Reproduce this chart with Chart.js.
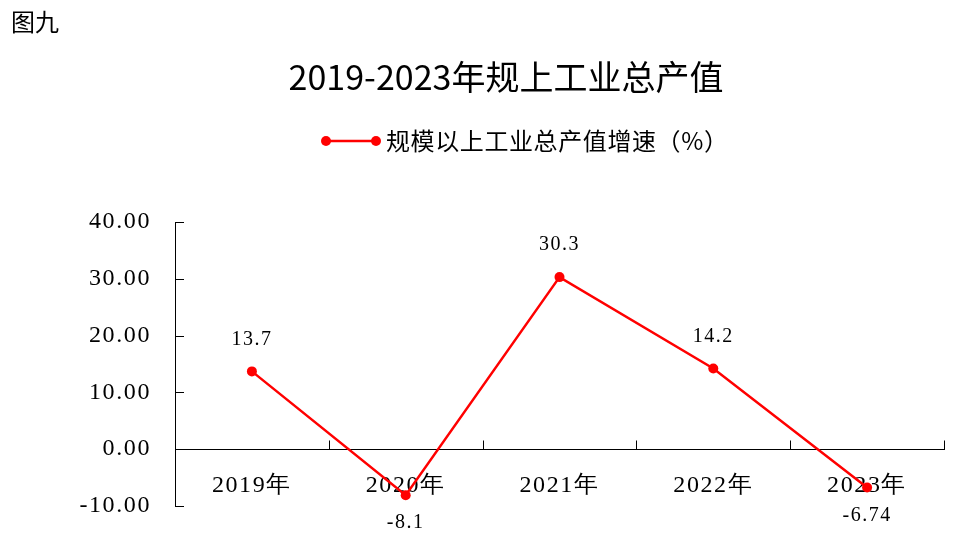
<!DOCTYPE html>
<html>
<head>
<meta charset="utf-8">
<script src="https://cdn.jsdelivr.net/npm/chart.js@4/dist/chart.umd.min.js"></script>
<style>
html,body{margin:0;padding:0;background:#fff;}
#wrap{position:relative;width:978px;height:547px;}
</style>
</head>
<body>
<div id="wrap"><canvas id="c" width="978" height="547"></canvas></div>
<script>
const figureLabel = '图九';
const chartTitle = '2019-2023年规上工业总产值';
const seriesName = '规模以上工业总产值增速（%）';
const categories = ['2019年', '2020年', '2021年', '2022年', '2023年'];
const growth = [13.7, -8.1, 30.3, 14.2, -6.74];
const growthLabels = ['13.7', '-8.1', '30.3', '14.2', '-6.74'];
const yMin = -10;
const yMax = 40;
const yStep = 10;

const RED = '#FF0000';
const SERIF = '"Liberation Serif", "DejaVu Serif", serif';
const CJK = '"Noto Sans CJK SC", sans-serif';

const decor = {
  id: 'decor',
  beforeDraw(chart) {
    chart.ctx.letterSpacing = '1.6px';
  },
  afterDraw(chart) {
    const ctx = chart.ctx;
    const xs = chart.scales.x, ys = chart.scales.y;
    const area = chart.chartArea;
    ctx.save();
    ctx.strokeStyle = '#000';
    ctx.lineWidth = 1;
    ys.ticks.forEach(t => {
      const y = Math.round(ys.getPixelForValue(t.value)) + 0.5;
      ctx.beginPath();
      ctx.moveTo(area.left, y);
      ctx.lineTo(area.left + 9, y);
      ctx.stroke();
    });
    const y0 = Math.round(ys.getPixelForValue(0)) + 0.5;
    const n = categories.length;
    for (let i = 0; i <= n; i++) {
      const x = Math.round(xs.left + i * (xs.width / n)) + 0.5;
      ctx.beginPath();
      ctx.moveTo(x, y0);
      ctx.lineTo(x, y0 - 9);
      ctx.stroke();
    }
    ctx.restore();
  },
  afterDatasetsDraw(chart) {
    const ctx = chart.ctx;
    const meta = chart.getDatasetMeta(0);
    ctx.save();
    ctx.fillStyle = '#000';
    ctx.letterSpacing = '1.5px';
    ctx.font = '20px ' + SERIF;
    ctx.textAlign = 'center';
    ctx.textBaseline = 'middle';
    meta.data.forEach((pt, i) => {
      const v = growth[i];
      const dy = v >= 0 ? -32 : 28;
      ctx.fillText(growthLabels[i], pt.x, pt.y + dy);
    });
    ctx.letterSpacing = '0px';
    ctx.textAlign = 'left';
    ctx.font = '24px ' + CJK;
    ctx.fillText(figureLabel, 11, 22);
    ctx.textAlign = 'center';
    ctx.font = '34px ' + CJK;
    ctx.fillText(chartTitle, 506, 77);
    const ly = 141;
    ctx.strokeStyle = RED;
    ctx.lineWidth = 2.5;
    ctx.beginPath();
    ctx.moveTo(326, ly);
    ctx.lineTo(376, ly);
    ctx.stroke();
    ctx.fillStyle = RED;
    [326, 376].forEach(x => {
      ctx.beginPath();
      ctx.arc(x, ly, 5, 0, Math.PI * 2);
      ctx.fill();
    });
    ctx.fillStyle = '#000';
    ctx.textAlign = 'left';
    ctx.letterSpacing = '0.6px';
    ctx.font = '24px ' + CJK;
    ctx.fillText(seriesName, 386, ly);
    ctx.restore();
  }
};

new Chart(document.getElementById('c'), {
  type: 'line',
  data: {
    labels: categories,
    datasets: [{
      label: seriesName,
      data: growth,
      borderColor: RED,
      backgroundColor: RED,
      borderWidth: 2.5,
      pointRadius: 5,
      pointHoverRadius: 5,
      pointBackgroundColor: RED,
      pointBorderColor: RED,
      pointBorderWidth: 0,
      tension: 0,
      fill: false,
      clip: false
    }]
  },
  options: {
    responsive: false,
    animation: false,
    events: [],
    layout: { padding: { left: 0, right: 34, top: 222, bottom: 41 } },
    plugins: {
      legend: { display: false },
      title: { display: false },
      tooltip: { enabled: false }
    },
    scales: {
      x: {
        type: 'category',
        position: { y: 0 },
        offset: true,
        grid: { display: false, drawTicks: false },
        border: { display: true, color: '#000', width: 1 },
        ticks: {
          color: '#000',
          font: { family: SERIF, size: 24 },
          padding: 22,
          maxRotation: 0,
          autoSkip: false
        }
      },
      y: {
        min: yMin,
        max: yMax,
        grid: { display: false, drawTicks: false },
        border: { display: true, color: '#000', width: 1 },
        afterFit(scale) { scale.width = 175; },
        ticks: {
          stepSize: yStep,
          color: '#000',
          font: { family: SERIF, size: 24 },
          padding: 24,
          callback: v => Number(v).toFixed(2)
        }
      }
    }
  },
  plugins: [decor]
});
</script>
</body>
</html>
